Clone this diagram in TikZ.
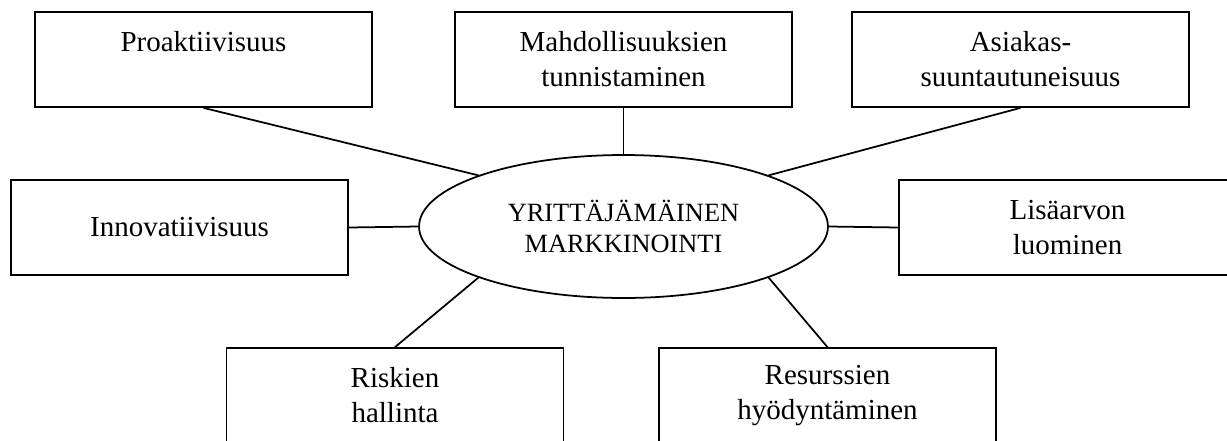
\documentclass[tikz,border=0pt]{standalone}
\usepackage{fontspec}
\setmainfont{Liberation Serif}
\usetikzlibrary{shapes.geometric}

\begin{document}
\begin{tikzpicture}[x=0.02cm,y=-0.02cm,line width=1pt,
    box/.style={draw,rectangle,minimum width=6.74cm,minimum height=1.9cm,
      inner sep=0pt,align=center,font=\fontsize{16.5}{20}\selectfont},
    core/.style={draw,ellipse,minimum width=8.18cm,minimum height=2.86cm,
      inner sep=0pt,align=center,font=\fontsize{15}{17.5}\selectfont}]
  \useasboundingbox (0,0) rectangle (1227,440);
  % centre of the figure
  \node[core]   (YM)        at (623.5,226.5) {YRITTÄJÄMÄINEN\\MARKKINOINTI};
  % upper row
  \node[box]    (Proakt)    at (203.5,59.5)  {Proaktiivisuus\\~};
  \node[box]    (Mahd)      at (623.5,59.5)  {Mahdollisuuksien\\tunnistaminen};
  \node[box]    (Asiakas)   at (1020.5,59.5) {Asiakas-\\suuntautuneisuus};
  % middle row
  \node[box]    (Innov)     at (179.5,227.5) {Innovatiivisuus};
  \node[box]    (Lisa)      at (1067.5,227.5) {Lisäarvon\\luominen};
  % lower row
  \node[box]    (Riskit)    at (395,395.5)   {Riskien\\hallinta};
  \node[box]    (Resurssit) at (827.5,395.5) {Resurssien\\hyödyntäminen};
  \draw (Proakt.south) -- (YM.north west);
  \draw (Mahd.south) -- (YM.north);
  \draw (Asiakas.south) -- (YM.north east);
  \draw (Innov.east) -- (YM.west);
  \draw (Lisa.west) -- (YM.east);
  \draw (Riskit.north) -- (YM.south west);
  \draw (Resurssit.north) -- (YM.south east);
\end{tikzpicture}
\end{document}
